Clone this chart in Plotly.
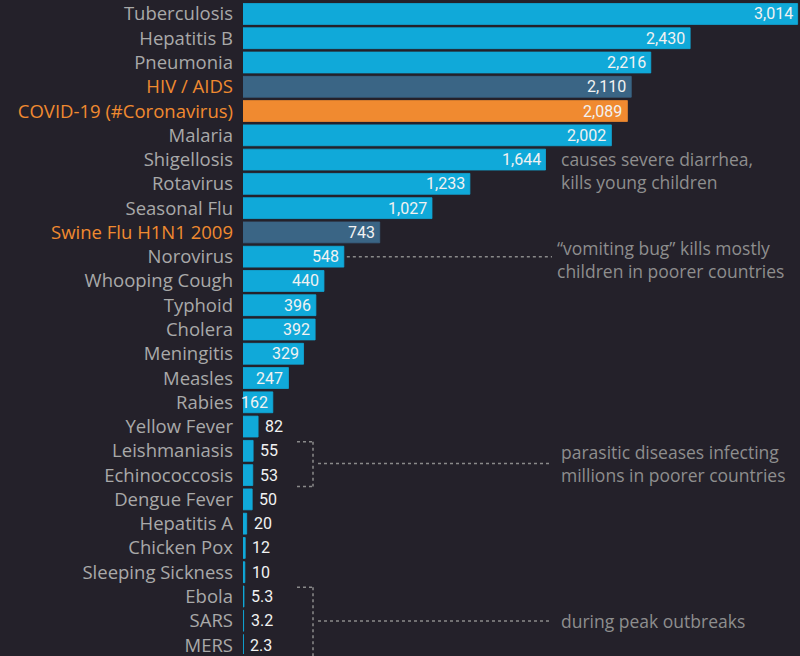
import plotly.graph_objects as go

# ---- data ----
diseases = ["Tuberculosis", "Hepatitis B", "Pneumonia", "HIV / AIDS", "COVID-19 (#Coronavirus)",
            "Malaria", "Shigellosis", "Rotavirus", "Seasonal Flu", "Swine Flu H1N1 2009",
            "Norovirus", "Whooping Cough", "Typhoid", "Cholera", "Meningitis", "Measles",
            "Rabies", "Yellow Fever", "Leishmaniasis", "Echinococcosis", "Dengue Fever",
            "Hepatitis A", "Chicken Pox", "Sleeping Sickness", "Ebola", "SARS", "MERS"]
values = [3014, 2430, 2216, 2110, 2089, 2002, 1644, 1233, 1027, 743, 548, 440, 396, 392,
          329, 247, 162, 82, 55, 53, 50, 20, 12, 10, 5.3, 3.2, 2.3]
value_labels = ["3,014", "2,430", "2,216", "2,110", "2,089", "2,002", "1,644", "1,233", "1,027",
                "743", "548", "440", "396", "392", "329", "247", "162", "82", "55", "53", "50",
                "20", "12", "10", "5.3", "3.2", "2.3"]
group = ["base", "base", "base", "past", "covid", "base", "base", "base", "base", "past",
         "base", "base", "base", "base", "base", "base", "base", "base", "base", "base", "base",
         "base", "base", "base", "base", "base", "base"]

notes = {
    "shigella": "causes severe diarrhea,<br>kills young children",
    "noro": "“vomiting bug” kills mostly<br>children in poorer countries",
    "parasite": "parasitic diseases infecting<br>millions in poorer countries",
    "outbreak": "during peak outbreaks",
}

# ---- style ----
BG = "#24212a"
CYAN = "#10a9d9"
PAST = "#3a6585"
ORANGE = "#f08a30"
LABEL_GRAY = "#a9a9a9"
NOTE_GRAY = "#8e8e8e"
DOT_GRAY = "#8a8a8a"
W, H = 800, 656
L = 243
PLOT_W = W - L
XMAX = 3027

color_map = {"base": CYAN, "past": PAST, "covid": ORANGE}
bar_colors = [color_map[g] for g in group]

ticktext = []
for d, g in zip(diseases, group):
    if g in ("past", "covid"):
        ticktext.append(f"<span style='color:{ORANGE}'>{d}</span>")
    else:
        ticktext.append(d)

idx = list(range(len(diseases)))

fig = go.Figure(go.Bar(
    x=values, y=idx, orientation="h",
    marker=dict(color=bar_colors, line=dict(color=bar_colors, width=0.8)),
    hoverinfo="skip",
))


def xp(px):
    return (px - L) / PLOT_W


def yp(py):
    return 1 - py / H


annotations = []
for i, (v, lab) in enumerate(zip(values, value_labels)):
    inside = v >= 150
    annotations.append(dict(
        x=v, y=i, xref="x", yref="y", text=lab, showarrow=False,
        xanchor="right" if inside else "left", xshift=-3 if inside else 5,
        font=dict(family="Roboto", size=16, color="#f2f2f2"),
    ))

note_font = dict(family="Open Sans", size=17.5, color=NOTE_GRAY)
annotations += [
    dict(x=xp(559), y=yp(171), xref="paper", yref="paper", text=notes["shigella"],
         showarrow=False, xanchor="left", yanchor="middle", align="left", font=note_font),
    dict(x=xp(555), y=yp(260), xref="paper", yref="paper", text=notes["noro"],
         showarrow=False, xanchor="left", yanchor="middle", align="left", font=note_font),
    dict(x=xp(559), y=yp(465), xref="paper", yref="paper", text=notes["parasite"],
         showarrow=False, xanchor="left", yanchor="middle", align="left", font=note_font),
    dict(x=xp(559), y=yp(623), xref="paper", yref="paper", text=notes["outbreak"],
         showarrow=False, xanchor="left", yanchor="middle", align="left", font=note_font),
]

dot = dict(color=DOT_GRAY, width=1.5, dash="dot")
shapes = []


def seg(x0, y0, x1, y1):
    shapes.append(dict(type="line", xref="paper", yref="paper",
                       x0=xp(x0), y0=yp(y0), x1=xp(x1), y1=yp(y1), line=dot))


# norovirus connector
noro_i = diseases.index("Norovirus")
shapes.append(dict(type="line", xref="x", yref="y",
                   x0=values[noro_i] + 3 / (PLOT_W / XMAX), y0=noro_i,
                   x1=XMAX * xp(552), y1=noro_i, line=dot))
# parasitic bracket
seg(297, 443, 313, 443)
seg(313, 443, 313, 488)
seg(297, 488, 313, 488)
seg(318, 465, 552, 465)
# outbreak bracket
seg(297, 589, 313, 589)
seg(313, 589, 313, 660)
seg(318, 623, 552, 623)

fig.update_layout(
    width=W, height=H,
    margin=dict(l=L, r=0, t=0, b=0),
    paper_bgcolor=BG, plot_bgcolor=BG,
    bargap=0.14,
    showlegend=False,
    xaxis=dict(range=[0, XMAX], visible=False, fixedrange=True),
    yaxis=dict(
        range=[26.37, -0.575], tickmode="array", tickvals=idx, ticktext=ticktext,
        showgrid=False, zeroline=False, showline=False, ticks="",
        ticklabelstandoff=9, fixedrange=True, ticklabeloverflow="allow",
        tickfont=dict(family="Open Sans", size=18.5, color=LABEL_GRAY),
    ),
    annotations=annotations,
    shapes=shapes,
)

fig.write_html(
    "out.html",
    config={"displayModeBar": False},
    post_script="document.body.style.margin='0';document.body.style.overflow='hidden';"
                "document.body.style.background='" + BG + "';",
)
